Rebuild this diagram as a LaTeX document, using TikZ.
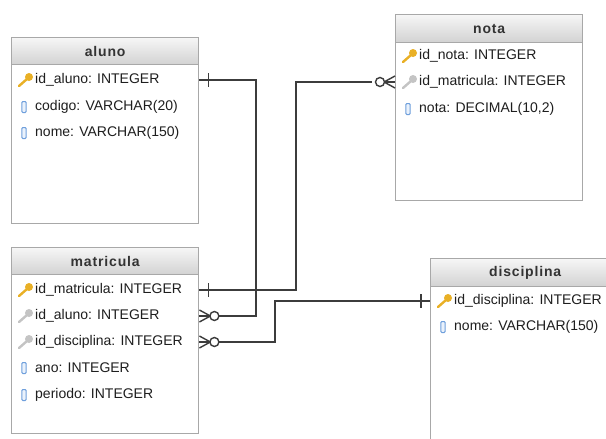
\documentclass[tikz,border=0pt]{standalone}
\usepackage{fontspec}
\setmainfont{Liberation Sans}
\usetikzlibrary{calc}
\definecolor{boxgray}{HTML}{A8A8A8}
\definecolor{hdtop}{HTML}{F6F6F6}
\definecolor{hdbot}{HTML}{D2D2D2}
\definecolor{txt}{HTML}{1E1E1E}
\definecolor{hdtxt}{HTML}{333333}
\definecolor{linec}{HTML}{3C3C3C}
\definecolor{pkgold}{HTML}{E9B026}
\definecolor{fkgray}{HTML}{C4C4C4}
\definecolor{colblue}{HTML}{6E9FDC}
\definecolor{colfill}{HTML}{EAF2FC}
\tikzset{
  tbl/.style={draw=boxgray, line width=1.4pt, fill=white, anchor=north west, inner sep=0pt},
  hdr/.style={draw=boxgray, line width=1.4pt, top color=hdtop, bottom color=hdbot, anchor=north west, inner sep=0pt},
  hdtext/.style={font=\bfseries\fontsize{14}{16}\selectfont\addfontfeatures{LetterSpace=6}, text=hdtxt},
  rowtext/.style={anchor=west, font=\fontsize{14}{16}\selectfont, text=txt, inner sep=0pt},
  rel/.style={draw=linec, line width=1.4pt},
}
\newcommand\keyicon[3]{%
  \begin{scope}[shift={(#1,#2)}]
    \draw[#3, line width=2.4pt, line cap=round] (-7,6) -- (1,-1);
    \fill[#3] (3,-3) circle (4);
  \end{scope}}
\newcommand\colicon[2]{%
  \draw[colblue, fill=colfill, line width=1pt, rounded corners=1pt] (#1-2.2,#2-5.5) rectangle (#1+2.2,#2+5.5);}
\begin{document}
\begin{tikzpicture}[x=1pt,y=-1pt]
\useasboundingbox (0,0) rectangle (606,439);
\clip (0,0) rectangle (606,439);
\fill[white] (0,0) rectangle (606,439);

% ---- aluno
\node[tbl, minimum width=187pt, minimum height=186pt] (aluno) at (11,37) {};
\node[hdr, minimum width=187pt, minimum height=27pt] (alunoh) at (11,37) {};
\node[hdtext] at (alunoh.center) {aluno};
\node[rowtext] (a1) at (35,80) {id\_aluno: INTEGER};
\node[rowtext] (a2) at (35,107) {codigo: VARCHAR(20)};
\node[rowtext] (a3) at (35,133) {nome: VARCHAR(150)};
\keyicon{26}{80}{pkgold}
\colicon{24}{107}
\colicon{24}{133}

% ---- nota
\node[tbl, minimum width=187pt, minimum height=186pt] (nota) at (395,14) {};
\node[hdr, minimum width=187pt, minimum height=28pt] (notah) at (395,14) {};
\node[hdtext] at (notah.center) {nota};
\node[rowtext] (n1) at (419,56) {id\_nota: INTEGER};
\node[rowtext] (n2) at (419,82) {id\_matricula: INTEGER};
\node[rowtext] (n3) at (419,109) {nota: DECIMAL(10,2)};
\keyicon{410}{56}{pkgold}
\keyicon{410}{82}{fkgray}
\colicon{408}{109}

% ---- matricula
\node[tbl, minimum width=187pt, minimum height=186pt] (matricula) at (11,247) {};
\node[hdr, minimum width=187pt, minimum height=27pt] (matriculah) at (11,247) {};
\node[hdtext] at (matriculah.center) {matricula};
\node[rowtext] (m1) at (35,290) {id\_matricula: INTEGER};
\node[rowtext] (m2) at (35,316) {id\_aluno: INTEGER};
\node[rowtext] (m3) at (35,342) {id\_disciplina: INTEGER};
\node[rowtext] (m4) at (35,368) {ano: INTEGER};
\node[rowtext] (m5) at (35,395) {periodo: INTEGER};
\keyicon{26}{290}{pkgold}
\keyicon{26}{316}{fkgray}
\keyicon{26}{342}{fkgray}
\colicon{24}{368}
\colicon{24}{395}

% ---- disciplina
\node[tbl, minimum width=189pt, minimum height=200pt] (disciplina) at (430,258) {};
\node[hdr, minimum width=189pt, minimum height=28pt] (disciplinah) at (430,258) {};
\node[hdtext] at (disciplinah.center) {disciplina};
\node[rowtext] (d1) at (454,301) {id\_disciplina: INTEGER};
\node[rowtext] (d2) at (454,327) {nome: VARCHAR(150)};
\keyicon{445}{301}{pkgold}
\colicon{443}{327}

% ---- connector end points
\coordinate (pA) at (aluno.east |- a1);
\coordinate (pM1) at (matricula.east |- m1);
\coordinate (pM2) at (matricula.east |- m2);
\coordinate (pM3) at (matricula.east |- m3);
\coordinate (pN) at (nota.west |- n2);
\coordinate (pD) at (disciplina.west |- d1);

% aluno 1 -- n matricula
\draw[rel] (pA) -- (256,80) -- (256,316) -- ($(pM2)+(19,0)$);
\draw[rel] ($(pA)+(9,-7)$) -- ($(pA)+(9,7)$);
\draw[rel] ($(pM2)+(0,-6)$) -- ($(pM2)+(11,0)$) -- ($(pM2)+(0,6)$);
\draw[rel] (pM2) -- ($(pM2)+(11,0)$);
\draw[rel, fill=white] ($(pM2)+(15,0)$) circle (4.5);

% matricula 1 -- n nota
\draw[rel] (pM1) -- (296,290) -- (296,82) -- ($(pN)+(-23,0)$);
\draw[rel] ($(pM1)+(9,-7)$) -- ($(pM1)+(9,7)$);
\draw[rel] ($(pN)+(0,-6)$) -- ($(pN)+(-11,0)$) -- ($(pN)+(0,6)$);
\draw[rel] (pN) -- ($(pN)+(-11,0)$);
\draw[rel, fill=white] ($(pN)+(-15,0)$) circle (4.5);

% disciplina 1 -- n matricula
\draw[rel] ($(pM3)+(19,0)$) -- (275,342) -- (275,301) -- (pD);
\draw[rel] ($(pD)+(-9,-7)$) -- ($(pD)+(-9,7)$);
\draw[rel] ($(pM3)+(0,-6)$) -- ($(pM3)+(11,0)$) -- ($(pM3)+(0,6)$);
\draw[rel] (pM3) -- ($(pM3)+(11,0)$);
\draw[rel, fill=white] ($(pM3)+(15,0)$) circle (4.5);
\end{tikzpicture}
\end{document}
